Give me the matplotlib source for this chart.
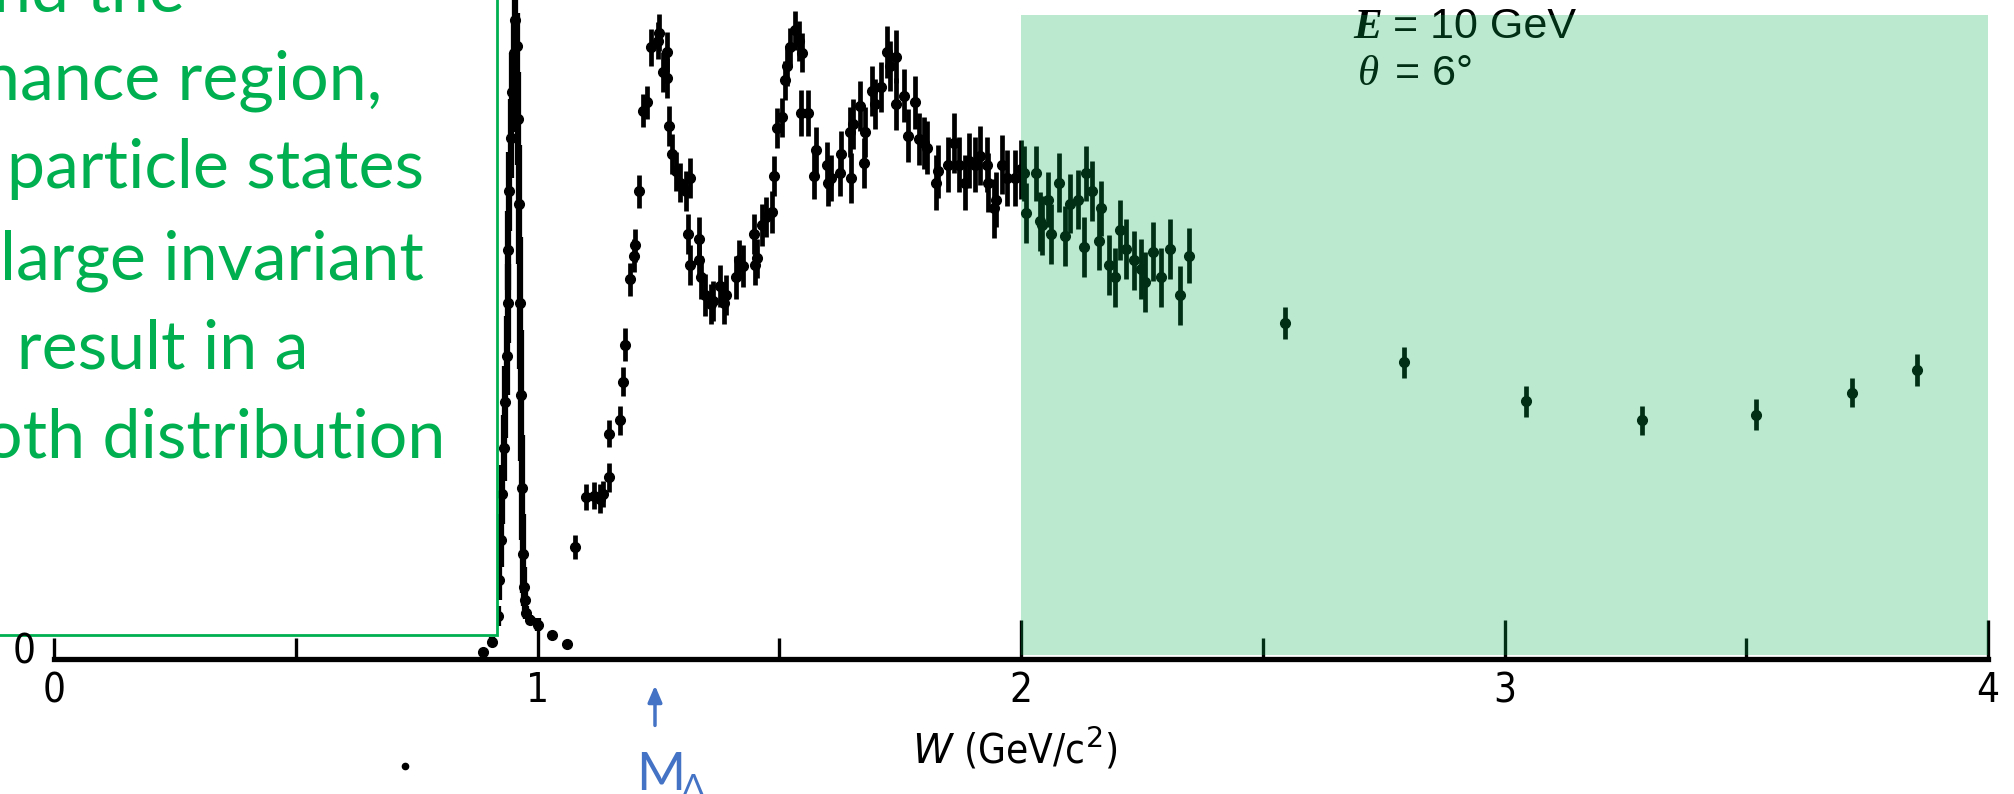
import matplotlib
matplotlib.use("Agg")
import matplotlib.pyplot as plt
from matplotlib.patches import Rectangle
from matplotlib.lines import Line2D

# elastic peak (W near the proton mass), arbitrary cross-section units
elastic_W = [0.887, 0.905, 0.918, 0.921, 0.924, 0.927, 0.930, 0.933, 0.936, 0.938,
             0.940, 0.942, 0.945, 0.948, 0.951, 0.954, 0.957, 0.960, 0.962, 0.964,
             0.966, 0.968, 0.970, 0.972, 0.974, 0.977, 0.985, 1.000, 1.030, 1.060]
elastic_v = [0.10, 0.26, 0.65, 1.20, 1.80, 2.50, 3.20, 3.90, 4.60, 5.40,
             6.20, 7.10, 7.90, 8.60, 9.20, 9.70, 9.30, 8.20, 6.90, 5.40,
             4.00, 2.60, 1.60, 1.10, 0.90, 0.70, 0.59, 0.52, 0.36, 0.23]
elastic_err = [0.05, 0.08, 0.15, 0.30, 0.40, 0.45, 0.50, 0.55, 0.60, 0.60,
               0.60, 0.60, 0.60, 0.60, 0.50, 0.40, 0.50, 0.70, 0.90, 1.00,
               1.00, 0.80, 0.60, 0.30, 0.15, 0.10, 0.08, 0.10, 0.06, 0.05]

# resonance region
res_W = [1.077, 1.101, 1.117, 1.129, 1.136, 1.147, 1.148, 1.171, 1.176, 1.181,
         1.191, 1.200, 1.202, 1.209, 1.218, 1.227, 1.235, 1.249, 1.251, 1.259,
         1.267, 1.267, 1.273, 1.279, 1.287, 1.295, 1.307, 1.311, 1.315, 1.315,
         1.334, 1.334, 1.338, 1.346, 1.358, 1.362, 1.377, 1.386, 1.390, 1.410,
         1.417, 1.424, 1.448, 1.449, 1.455, 1.464, 1.473, 1.485, 1.490, 1.496,
         1.505, 1.512, 1.516, 1.522, 1.532, 1.540, 1.544, 1.548, 1.559, 1.572,
         1.576, 1.599, 1.601, 1.607, 1.625, 1.627, 1.647, 1.649, 1.652, 1.667,
         1.675, 1.677, 1.691, 1.699, 1.710, 1.722, 1.730, 1.742, 1.742, 1.758,
         1.766, 1.781, 1.790, 1.800, 1.806, 1.825, 1.829, 1.849, 1.861, 1.871,
         1.884, 1.892, 1.904, 1.916, 1.930, 1.932, 1.944, 1.948, 1.960, 1.971,
         1.988, 1.999, 2.007, 2.011, 2.031, 2.039, 2.043, 2.055, 2.063, 2.079,
         2.091, 2.102, 2.118, 2.130, 2.134, 2.146, 2.161, 2.165, 2.182, 2.194,
         2.205, 2.217, 2.233, 2.249, 2.257, 2.273, 2.289, 2.308, 2.328, 2.347]
res_v = [1.70, 2.46, 2.48, 2.43, 2.50, 2.76, 3.42, 3.62, 4.21, 4.77,
         5.76, 6.12, 6.28, 7.10, 8.32, 8.45, 9.28, 9.38, 9.50, 8.91,
         9.21, 8.82, 8.09, 7.66, 7.40, 7.23, 7.10, 6.45, 7.30, 5.98,
         6.38, 6.06, 5.79, 5.52, 5.39, 5.43, 5.66, 5.40, 5.52, 5.79,
         6.06, 5.96, 6.45, 5.98, 6.08, 6.58, 6.71, 6.78, 7.33, 8.06,
         8.22, 8.78, 9.00, 9.28, 9.54, 9.38, 8.29, 9.20, 8.29, 7.33,
         7.73, 7.50, 7.23, 7.30, 7.38, 7.66, 8.00, 7.30, 8.12, 8.39,
         7.53, 8.00, 8.62, 8.42, 8.68, 9.21, 9.00, 9.14, 8.42, 8.55,
         7.94, 8.45, 7.89, 7.83, 7.76, 7.23, 7.40, 7.50, 7.83, 7.50,
         7.23, 7.56, 7.50, 7.64, 7.50, 7.23, 6.84, 6.97, 7.50, 7.30,
         7.30, 7.43, 7.37, 6.77, 7.37, 6.64, 6.58, 6.97, 6.45, 7.23,
         6.42, 6.91, 6.97, 6.25, 7.37, 7.10, 6.35, 6.84, 5.98, 5.79,
         6.51, 6.22, 6.05, 5.92, 5.72, 6.18, 5.79, 6.22, 5.52, 6.12]
res_err = [0.18, 0.20, 0.20, 0.22, 0.20, 0.22, 0.20, 0.22, 0.22, 0.25,
           0.25, 0.25, 0.25, 0.25, 0.25, 0.25, 0.28, 0.28, 0.28, 0.30,
           0.30, 0.30, 0.30, 0.30, 0.30, 0.30, 0.30, 0.30, 0.30, 0.30,
           0.32, 0.30, 0.32, 0.32, 0.30, 0.30, 0.32, 0.32, 0.30, 0.32,
           0.30, 0.32, 0.30, 0.30, 0.30, 0.32, 0.30, 0.32, 0.30, 0.30,
           0.30, 0.30, 0.30, 0.30, 0.30, 0.30, 0.35, 0.30, 0.35, 0.35,
           0.35, 0.35, 0.35, 0.35, 0.35, 0.35, 0.38, 0.38, 0.38, 0.38,
           0.38, 0.38, 0.38, 0.38, 0.38, 0.40, 0.38, 0.40, 0.40, 0.40,
           0.40, 0.40, 0.40, 0.40, 0.40, 0.42, 0.40, 0.42, 0.45, 0.42,
           0.42, 0.42, 0.42, 0.45, 0.42, 0.45, 0.45, 0.42, 0.45, 0.42,
           0.42, 0.45, 0.42, 0.45, 0.42, 0.45, 0.45, 0.42, 0.45, 0.45,
           0.45, 0.45, 0.45, 0.45, 0.42, 0.45, 0.45, 0.42, 0.45, 0.45,
           0.45, 0.45, 0.45, 0.45, 0.45, 0.45, 0.45, 0.45, 0.45, 0.42]

# deep inelastic tail
tail_W = [2.546, 2.793, 3.045, 3.285, 3.520, 3.719, 3.854]
tail_v = [5.10, 4.50, 3.91, 3.62, 3.71, 4.04, 4.39]
tail_err = [0.24, 0.24, 0.24, 0.22, 0.24, 0.22, 0.24]

major_ticks = [0, 1, 2, 3, 4]
minor_ticks = [0.5, 1.5, 2.5, 3.5]
tick_labels = ["0", "1", "2", "3", "4"]
M_DELTA = 1.243
dis_region = (2.0, 4.0)

note_lines = ["nd the", "nance region,", "particle states",
              "large invariant", "s result in a", "oth distribution"]
# (alignment, x pixel, baseline pixel) from the top-left corner
note_anchor = [("right", 185, 11), ("right", 382, 100), ("left", 7, 188),
               ("right", 424, 279), ("right", 308, 368), ("right", 445, 457)]

W_PX, H_PX = 2014, 794
GREEN = "#00B050"
BLUE = "#4472C4"
SANS = ["Liberation Sans", "DejaVu Sans"]
NOTE_FONT = ["Lato", "DejaVu Sans"]
COND = dict(family="DejaVu Sans", stretch="condensed")


def fx(px):
    return px / W_PX


def fy(py):
    return 1 - py / H_PX


plt.rcParams["mathtext.fontset"] = "custom"
plt.rcParams["mathtext.it"] = "DejaVu Sans:italic"
plt.rcParams["mathtext.rm"] = "DejaVu Sans"

fig = plt.figure(figsize=(20.14, 7.94), dpi=100)
ax = fig.add_axes([fx(54), fy(659), fx(1988) - fx(54), 1 - fy(659)])
ax.set_xlim(0, 4)
ax.set_ylim(0, 10)

ebkw = dict(fmt="o", ms=7, color="k", ecolor="k", capsize=0, zorder=3,
            clip_on=False)
ax.errorbar(elastic_W, elastic_v, yerr=elastic_err, xerr=0.005,
            elinewidth=4.5, **ebkw)
ax.errorbar(res_W, res_v, yerr=res_err, xerr=0.008, elinewidth=3.4, **ebkw)
ax.errorbar(tail_W, tail_v, yerr=tail_err, xerr=0.007, elinewidth=3.4, **ebkw)

# labels in the upper right
ax.text(2.687, 9.42, "E", fontsize=31, family="Liberation Serif",
        style="italic", weight="bold", va="baseline", zorder=4)
ax.text(2.769, 9.42, "= 10 GeV", fontsize=31, family=SANS,
        va="baseline", zorder=4)
ax.text(2.697, 8.71, "θ", fontsize=31, family="Liberation Serif",
        style="italic", va="baseline", zorder=4)
ax.text(2.774, 8.71, "= 6°", fontsize=31, family=SANS,
        va="baseline", zorder=4)

# shaded region
ax.add_patch(Rectangle((dis_region[0], 0.06), dis_region[1] - dis_region[0], 9.71,
                       facecolor=GREEN, alpha=0.27, lw=0, zorder=5))

for side in ["top", "right", "left"]:
    ax.spines[side].set_visible(False)
ax.spines["bottom"].set_linewidth(3.8)
ax.set_yticks([])
ax.set_xticks(major_ticks)
ax.set_xticklabels(tick_labels)
ax.set_xticks(minor_ticks, minor=True)
ax.tick_params(axis="x", which="major", direction="in", length=28, width=2.4,
               pad=9, labelsize=29)
ax.tick_params(axis="x", which="minor", direction="in", length=15, width=2.4)
for lab in ax.get_xticklabels():
    lab.set(**COND)
ax.xaxis.get_major_ticks()[0].tick1line.set_markersize(15)

ax.set_xlabel(r"$W$ (GeV/c$^2$)", fontsize=29, **COND)
ax.xaxis.set_label_coords(0.4965, -0.138)
ax.xaxis.label.set_va("center")

fig.text(fx(24), fy(653), "0", fontsize=29, ha="center", va="center",
         zorder=12, **COND)

# M_Delta arrow
ax.annotate("", xy=(M_DELTA, -0.36), xytext=(M_DELTA, -1.05),
            arrowprops=dict(arrowstyle="-|>,head_width=0.3,head_length=0.7",
                            color=BLUE, lw=2.5, mutation_scale=14),
            annotation_clip=False)
fig.text(fx(636), fy(752), "M", fontsize=38, family=NOTE_FONT, color=BLUE,
         ha="left", va="top")
fig.text(fx(682), fy(774), "Δ", fontsize=24, family=NOTE_FONT, color=BLUE,
         ha="left", va="top")

fig.add_artist(Line2D([fx(405)], [fy(766)], marker="o", ms=4.5, color="k",
                      transform=fig.transFigure))

# white note box with green text
fig.add_artist(Rectangle((fx(-10), fy(635)), fx(507), 1 - fy(635) + 0.05,
                         transform=fig.transFigure, facecolor="white",
                         edgecolor=GREEN, lw=2, zorder=10))

probe = fig.text(0, 0, "particle states", fontsize=50, family=NOTE_FONT)
fig.canvas.draw()
note_size = 50 * 416 / probe.get_window_extent().width
probe.remove()

for line, (ha, x, y) in zip(note_lines, note_anchor):
    fig.text(fx(x), fy(y), line, fontsize=note_size, family=NOTE_FONT,
             color=GREEN, ha=ha, va="baseline", zorder=11)

fig.savefig("out.png", dpi=100)
